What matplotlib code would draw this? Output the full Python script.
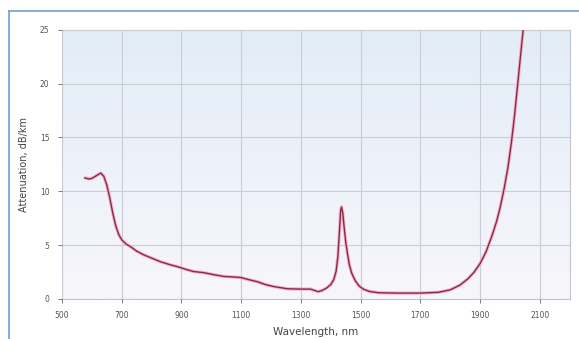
import numpy as np
import matplotlib
matplotlib.use("Agg")
import matplotlib.pyplot as plt
from matplotlib.lines import Line2D
from matplotlib.colors import LinearSegmentedColormap

# wavelength (nm) and attenuation (dB/km)
wavelength = [577, 590, 600, 615, 630, 640, 650, 660, 670, 680, 690, 700, 715,
              730, 750, 774, 800, 831, 860, 887, 915, 941, 974, 1010, 1041,
              1070, 1098, 1125, 1155, 1180, 1210, 1255, 1300, 1332, 1345, 1358,
              1370, 1385, 1400, 1410, 1418, 1424, 1429, 1433, 1436, 1440, 1445,
              1450, 1456, 1462, 1470, 1482, 1495, 1510, 1530, 1560, 1620, 1700,
              1760, 1800, 1833, 1860, 1880, 1900, 1920, 1940, 1955, 1967, 1980,
              1993, 2005, 2015, 2026, 2036, 2043, 2046]
attenuation = [11.25, 11.15, 11.2, 11.45, 11.7, 11.4, 10.6, 9.4, 8.0, 6.8, 6.0,
               5.5, 5.1, 4.85, 4.45, 4.1, 3.8, 3.45, 3.2, 3.0, 2.75, 2.55, 2.45,
               2.25, 2.1, 2.05, 2.0, 1.8, 1.6, 1.35, 1.15, 0.95, 0.92, 0.92,
               0.8, 0.68, 0.78, 1.0, 1.35, 1.8, 2.6, 4.0, 6.3, 8.2, 8.55, 8.0,
               6.6, 5.3, 4.2, 3.2, 2.4, 1.7, 1.2, 0.9, 0.7, 0.58, 0.55, 0.55,
               0.62, 0.85, 1.3, 1.9, 2.5, 3.3, 4.4, 5.9, 7.2, 8.5, 10.2, 12.2,
               14.6, 17.0, 20.0, 22.8, 24.7, 25.5]

x_ticks = [500, 700, 900, 1100, 1300, 1500, 1700, 1900, 2100]
y_ticks = [0, 5, 10, 15, 20, 25]

fig = plt.figure(figsize=(5.79, 3.39), dpi=100)
fig.patch.set_facecolor("white")
ax = fig.add_axes([0.107, 0.118, 0.877, 0.794])

# background gradient
grad = np.linspace(0, 1, 256).reshape(-1, 1)
cmap = LinearSegmentedColormap.from_list("bg", ["#f7f6fb", "#e3edf7"])
ax.imshow(grad, extent=[500, 2200, 0, 25], origin="lower", aspect="auto",
          cmap=cmap, zorder=0)

ax.plot(wavelength, attenuation, color="#f4b3c6", lw=2.4, zorder=3,
        solid_capstyle="round", solid_joinstyle="round")
ax.plot(wavelength, attenuation, color="#862a4a", lw=1.0, zorder=4,
        solid_joinstyle="round")

ax.set_xlim(500, 2200)
ax.set_ylim(0, 25)
ax.set_xticks(x_ticks)
ax.set_yticks(y_ticks)
ax.grid(True, color="#c9cdd5", lw=0.8, zorder=1)
ax.set_axisbelow(False)
for s in ax.spines.values():
    s.set_color("#c0c4cc")
    s.set_linewidth(0.8)
ax.tick_params(labelsize=5.5, colors="#666666", length=3, width=0.6,
               labelcolor="#555555", pad=6)

ax.set_xlabel("Wavelength, nm", fontsize=7.5, color="#444444", labelpad=5)
ax.set_ylabel("Attenuation, dB/km", fontsize=7, color="#444444", labelpad=8)

# blue page frame
frame = "#6fa0d2"
fig.add_artist(Line2D([9 / 579, 1], [1 - 11 / 339, 1 - 11 / 339],
                      color=frame, lw=1.2, transform=fig.transFigure))
fig.add_artist(Line2D([9 / 579, 9 / 579], [0, 1 - 11 / 339],
                      color=frame, lw=1.2, transform=fig.transFigure))

fig.savefig("out.png", dpi=100)
